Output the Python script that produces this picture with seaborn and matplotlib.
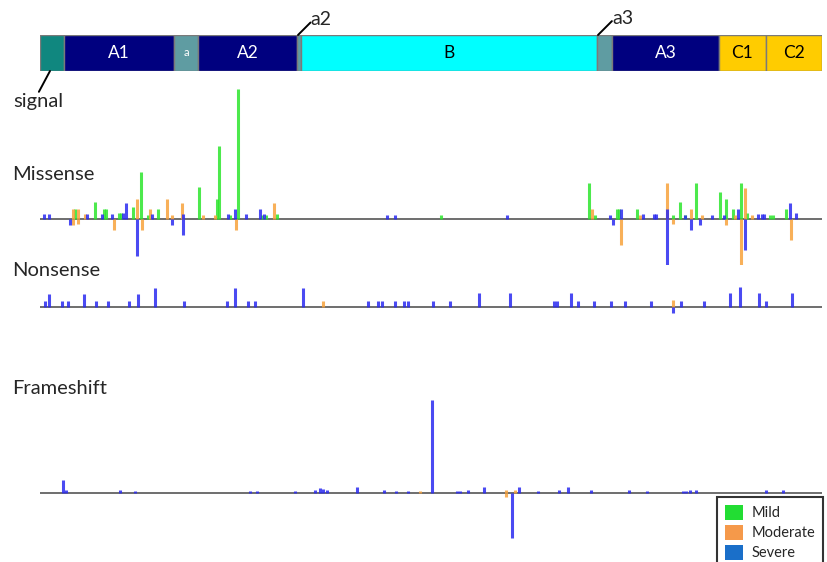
import matplotlib
matplotlib.use("Agg")
import matplotlib.pyplot as plt
from matplotlib.patches import Patch
import seaborn as sns

sns.set_theme(style="white")
plt.rcParams['font.family'] = ['Lato', 'DejaVu Sans']

W, H = 828, 562

# domain map (positions along the protein, same scale as the tracks)
dom_names = ['', 'A1', 'a', 'A2', '', 'B', '', 'A3', 'C1', 'C2']
dom_start = [40, 64, 174, 198, 297, 301, 597, 612, 719, 766]
dom_end = [64, 174, 198, 297, 301, 597, 612, 719, 766, 822]
dom_colors = ['#10877f', '#00007f', '#5f9ca2', '#00007f', '#5f9ca2',
              '#00ffff', '#5f9ca2', '#00007f', '#ffcc00', '#ffcc00']
dom_text = ['white', 'white', 'white', 'white', 'white',
            'black', 'white', 'white', 'black', 'black']

# missense: position, height (negative = below the line)
mis_mild_x = [75, 95, 104, 106, 119, 121, 133, 141, 148, 158, 199, 217, 219, 230,
              238, 262, 266, 277, 441, 589, 595, 617, 619, 637, 673, 680, 685,
              696, 720, 726, 733, 741, 747, 770, 773, 786]
mis_mild_h = [10, 17, 10, 10, 6, 6, 12, 47, 4, 10, 32, 20, 73, 4,
              130, 4, 4, 5, 4, 36, 4, 10, 10, 10, 4, 17, 4,
              36, 27, 20, 10, 36, 6, 4, 4, 10]
mis_mod_x = [73, 73, 78, 78, 85, 114, 137, 142, 150, 167, 172, 182, 203, 215, 236,
             274, 592, 621, 640, 667, 673, 691, 702, 726, 735, 741, 745, 752, 791]
mis_mod_h = [10, -6, 10, -5, 5, -11, 20, -11, 10, 20, 4, 16, 4, 4, -11,
             16, 10, -26, 4, 36, -5, 10, 4, -6, 4, -47, 31, 4, -21]
mis_sev_x = [44, 49, 70, 87, 102, 112, 123, 126, 137, 152, 172, 183, 183, 228, 235,
             246, 260, 264, 387, 395, 507, 610, 613, 621, 643, 654, 656, 667, 667,
             685, 691, 700, 712, 724, 738, 745, 758, 762, 764, 790, 796]
mis_sev_h = [5, 5, -6, 5, 5, 5, 6, 16, -37, 5, -6, -16, 5, 5, 10,
             5, 10, 5, 4, 4, 4, 4, -6, 10, 5, 5, 5, 10, -69,
             4, -11, -6, 4, 4, 10, -31, 5, 5, 5, 16, 6]

# nonsense
non_sev_x = [45, 49, 62, 68, 84, 96, 108, 129, 138, 155, 184, 227, 235, 248, 255,
             303, 368, 378, 382, 395, 404, 408, 433, 450, 479, 510, 554, 557, 571,
             578, 594, 611, 625, 651, 673, 681, 704, 730, 740, 759, 766, 792]
non_sev_h = [6, 13, 6, 6, 13, 6, 6, 6, 13, 19, 6, 6, 19, 6, 6,
             19, 6, 6, 6, 6, 6, 6, 6, 6, 14, 14, 6, 6, 14,
             6, 6, 6, 6, 6, -6, 6, 6, 14, 20, 14, 6, 14]
non_mod_x = [323, 673]
non_mod_h = [6, 7]

# frameshift
fs_sev_x = [63, 66, 120, 135, 250, 257, 295, 315, 320, 323, 327, 357, 384, 396, 408,
            432, 457, 460, 468, 484, 512, 519, 538, 559, 568, 591, 629, 647, 683,
            686, 690, 696, 766, 783]
fs_sev_h = [13, 3, 3, 2, 2, 2, 2, 3, 5, 4, 3, 6, 3, 2, 2,
            93, 2, 2, 3, 6, -45, 6, 2, 3, 6, 3, 3, 2, 2,
            2, 3, 3, 3, 3]
fs_mod_x = [420, 506, 506, 515]
fs_mod_h = [2, -4, 3, 3]

c_mild = '#2ee62e'
c_mod = '#f7a23c'
c_sev = '#2b2bf0'
leg_colors = ['#22dd33', '#f5994a', '#1a6fc9']
leg_labels = ['Mild', 'Moderate', 'Severe']

fig = plt.figure(figsize=(W / 100, H / 100), dpi=100)


def px_rect(x0, y0, x1, y1):
    return [x0 / W, 1 - y1 / H, (x1 - x0) / W, (y1 - y0) / H]


# domain bar
ax_d = fig.add_axes(px_rect(40, 35, 822, 71))
for name, s, e, c, tc in zip(dom_names, dom_start, dom_end, dom_colors, dom_text):
    ax_d.barh(0.5, e - s, left=s, height=1, color=c, edgecolor='#7a7a7a', linewidth=1)
    if name:
        ax_d.text((s + e) / 2, 0.5, name, color=tc, ha='center', va='center',
                  fontsize=8 if name == 'a' else 12.5)
ax_d.set_xlim(40, 822)
ax_d.set_ylim(0, 1)
ax_d.axis('off')

line_style = dict(arrowstyle='-', color='black', lw=1.4, shrinkA=0, shrinkB=0)
ax_d.annotate('', xy=(50, 0), xytext=(-8, -15), textcoords='offset points',
              annotation_clip=False, arrowprops=line_style)
ax_d.annotate('signal', xy=(50, 0), xytext=(-8.5, -22), textcoords='offset points',
              ha='center', va='center', fontsize=14.5, annotation_clip=False)
ax_d.annotate('', xy=(298, 1), xytext=(9, 9), textcoords='offset points',
              annotation_clip=False, arrowprops=line_style)
ax_d.annotate('a2', xy=(298, 1), xytext=(16.5, 11.5), textcoords='offset points',
              ha='center', va='center', fontsize=14, annotation_clip=False)
ax_d.annotate('', xy=(598, 1), xytext=(10, 10), textcoords='offset points',
              annotation_clip=False, arrowprops=line_style)
ax_d.annotate('a3', xy=(598, 1), xytext=(18, 12), textcoords='offset points',
              ha='center', va='center', fontsize=14, annotation_clip=False)


def track(rect, ylim, series):
    ax = fig.add_axes(px_rect(*rect))
    for xs, hs, c in series:
        ax.vlines(xs, 0, hs, colors=c, linewidth=2.2, alpha=0.85)
    ax.axhline(0, color='#555555', linewidth=1.2, zorder=0)
    ax.set_xlim(40, 822)
    ax.set_ylim(*ylim)
    ax.axis('off')
    return ax


track((40, 80, 822, 265), (-46, 139),
      [(mis_mild_x, mis_mild_h, c_mild), (mis_mod_x, mis_mod_h, c_mod),
       (mis_sev_x, mis_sev_h, c_sev)])
track((40, 280, 822, 318), (-11, 27),
      [(non_mod_x, non_mod_h, c_mod), (non_sev_x, non_sev_h, c_sev)])
track((40, 395, 822, 545), (-52, 98),
      [(fs_mod_x, fs_mod_h, c_mod), (fs_sev_x, fs_sev_h, c_sev)])

for label, y in [('Missense', 174), ('Nonsense', 271), ('Frameshift', 389)]:
    fig.text(12 / W, 1 - y / H, label, fontsize=14.5, ha='left', va='center')

handles = [Patch(facecolor=c, edgecolor='none') for c in leg_colors]
leg = fig.legend(handles, leg_labels, loc='upper left',
                 bbox_to_anchor=(717 / W, 1 - 497 / H), frameon=True,
                 fancybox=False, edgecolor='black', fontsize=10.5,
                 handlelength=1.2, handleheight=1.2, labelspacing=0.3,
                 borderpad=0.55, handletextpad=0.6, borderaxespad=0)
leg.get_frame().set_linewidth(1.5)

fig.savefig('out.png', dpi=100)
